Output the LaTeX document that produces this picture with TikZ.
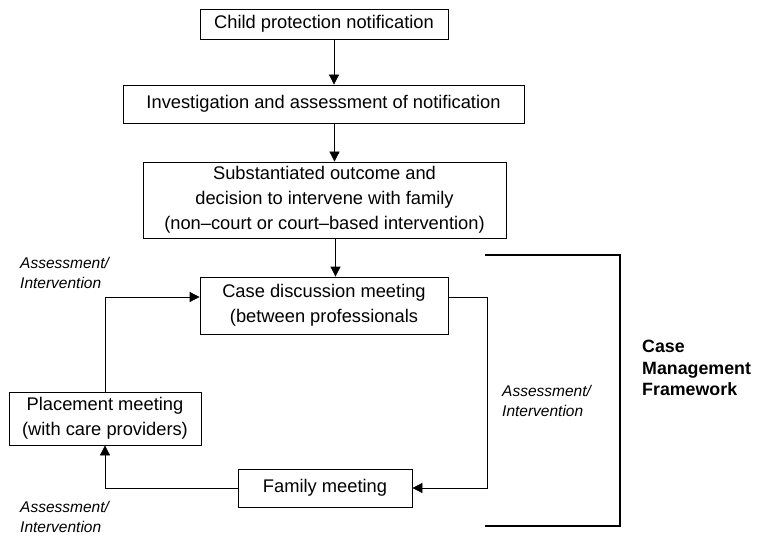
\documentclass[tikz,border=0pt]{standalone}
\usepackage{fontspec}
\setmainfont{Liberation Sans}
\usetikzlibrary{arrows.meta}
\tikzset{
  stepbox/.style={draw, line width=0.8pt, align=center, inner sep=0pt,
    font=\fontsize{18.3}{25}\selectfont},
  arr/.style={line width=0.8pt, -{Triangle[length=10pt,width=10pt]}},
  lbl/.style={anchor=west, align=left, inner sep=0pt,
    font=\fontsize{15.5}{19.5}\selectfont\itshape},
  frame/.style={line width=2.4pt}
}
\begin{document}
\begin{tikzpicture}[x=1pt, y=-1pt]
\useasboundingbox (0,0) rectangle (765,537);

\node[stepbox, minimum width=248pt, minimum height=30pt] (notif) at (324,24) {Child protection notification};
\node[stepbox, minimum width=401pt, minimum height=38pt] (invest) at (323.5,104) {Investigation and assessment of notification};
\node[stepbox, minimum width=363pt, minimum height=76pt] (outcome) at (324.5,200) {Substantiated outcome and\\decision to intervene with family\\(non--court or court--based intervention)};
\node[stepbox, minimum width=248pt, minimum height=57pt] (casemeet) at (324,305.5) {Case discussion meeting\\(between professionals};
\node[stepbox, minimum width=192pt, minimum height=53pt] (placemeet) at (105,418.5) {Placement meeting\\(with care providers)};
\node[stepbox, minimum width=174pt, minimum height=38pt] (familymeet) at (325,488) {Family meeting};

\draw[arr] ([xshift=10pt]notif.south) -- ([xshift=10pt]notif.south |- invest.north);
\draw[arr] ([xshift=11pt]invest.south) -- ([xshift=11pt]invest.south |- outcome.north);
\draw[arr] ([xshift=11pt]outcome.south) -- ([xshift=11pt]outcome.south |- casemeet.north);

\coordinate (rtop) at (487,297);
\coordinate (lbot) at (105,488);
\coordinate (ltop) at (105,297);
\draw[arr] (casemeet.east |- rtop) -- (rtop) |- (familymeet.east);
\draw[arr] (familymeet.west) -- (lbot) -- (placemeet.south);
\draw[arr] (placemeet.north) -- (ltop) -- (casemeet.west |- ltop);

\draw[frame] (485,255) -- (620,255) -- (620,526) -- (485,526);

\node[lbl] (lblone) at (20,273) {Assessment/\\Intervention};
\node[lbl] (lbltwo) at (502,401) {Assessment/\\Intervention};
\node[lbl] (lblthree) at (20,517) {Assessment/\\Intervention};
\node[anchor=west, align=left, inner sep=0pt, font=\fontsize{17.8}{21.5}\selectfont\bfseries] (cmf) at (642,368) {Case\\Management\\Framework};

\end{tikzpicture}
\end{document}
